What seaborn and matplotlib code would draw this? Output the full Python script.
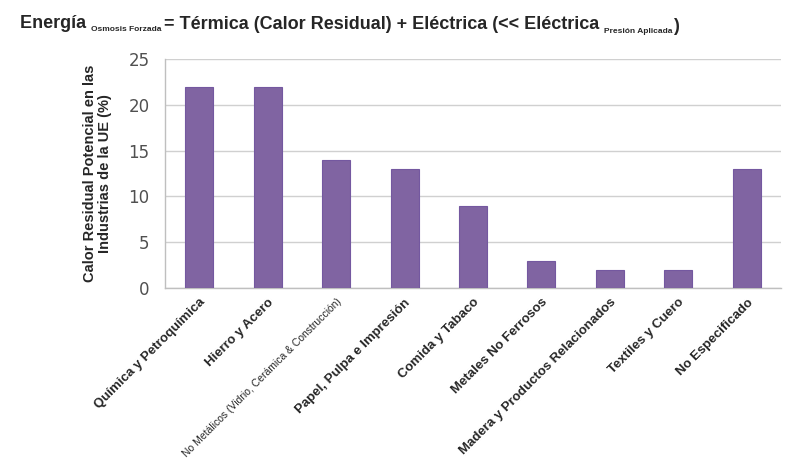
import numpy as np
import matplotlib
matplotlib.use("Agg")
import matplotlib.pyplot as plt
import seaborn as sns

# datos del grafico
sectores = ["Química y Petroquímica", "Hierro y Acero",
            "No Metálicos (Vidrio, Cerámica & Construcción)",
            "Papel, Pulpa e Impresión", "Comida y Tabaco",
            "Metales No Ferrosos", "Madera y Productos Relacionados",
            "Textiles y Cuero", "No Especificado"]
calor_residual = [22, 22, 14, 13, 9, 3, 2, 2, 13]
y_ticks = [0, 5, 10, 15, 20, 25]

sns.set_style("white")
plt.rcParams["font.family"] = ["Liberation Sans", "DejaVu Sans"]

fig = plt.figure(figsize=(7.91, 4.70), dpi=100)
ax = fig.add_axes([0.2086, 0.387, 0.7788, 0.4873])

sns.barplot(x=sectores, y=calor_residual, color="#8064A2", saturation=1,
            width=0.41, edgecolor="#7458A0", linewidth=0.8, ax=ax, zorder=3)

ax.set_ylim(0, 25)
ax.set_xlim(-0.5, len(sectores) - 0.5)
ax.set_yticks(y_ticks)
ax.set_yticklabels([str(v) for v in y_ticks], fontsize=12, color="#505050",
                   family=["DejaVu Sans"])
ax.yaxis.grid(True, color="#D0D0D0", linewidth=1, zorder=0)
ax.tick_params(axis="y", length=6, color="#C0C0C0", width=1, pad=5)

# etiquetas del eje x, giradas 45 grados
ax.set_xticks(range(len(sectores)))
ax.set_xticklabels(sectores)
for i, lab in enumerate(ax.get_xticklabels()):
    lab.set_rotation(45)
    lab.set_ha("right")
    lab.set_va("top")
    lab.set_rotation_mode("anchor")
    if i == 2:
        lab.set_fontsize(7.5)
    else:
        lab.set_fontsize(9.5)
        lab.set_fontweight("bold")
ax.tick_params(axis="x", which="major", length=0, pad=6)
ax.set_xticks(np.arange(-0.5, len(sectores), 1), minor=True)
ax.tick_params(axis="x", which="minor", length=4, color="#C0C0C0", width=1)

for s in ["top", "right"]:
    ax.spines[s].set_visible(False)
for s in ["left", "bottom"]:
    ax.spines[s].set_color("#BFBFBF")
    ax.spines[s].set_linewidth(1)

ax.set_ylabel("Calor Residual Potencial en las\nIndustrias de la UE (%)",
              fontsize=10.5, fontweight="bold", labelpad=12, linespacing=1.1)

# titulo con subindices, piezas encadenadas una tras otra
piezas = [("Energía ", 13, 0), ("Osmosis Forzada ", 6, -1),
          ("= Térmica (Calor Residual) + Eléctrica (<< Eléctrica ", 13, 0),
          ("Presión Aplicada", 6, -1), (")", 13, 0)]
prev = fig.text(20 / 791, 1 - 28 / 470, piezas[0][0], fontsize=piezas[0][1],
                fontweight="bold", va="baseline")
for texto, tam, dy in piezas[1:]:
    prev = fig.add_artist(plt.Annotation(texto, xy=(1, 0), xycoords=prev,
                                         xytext=(0, dy), textcoords="offset points",
                                         fontsize=tam, fontweight="bold",
                                         va="bottom", ha="left"))

fig.savefig("out.png", dpi=100)
